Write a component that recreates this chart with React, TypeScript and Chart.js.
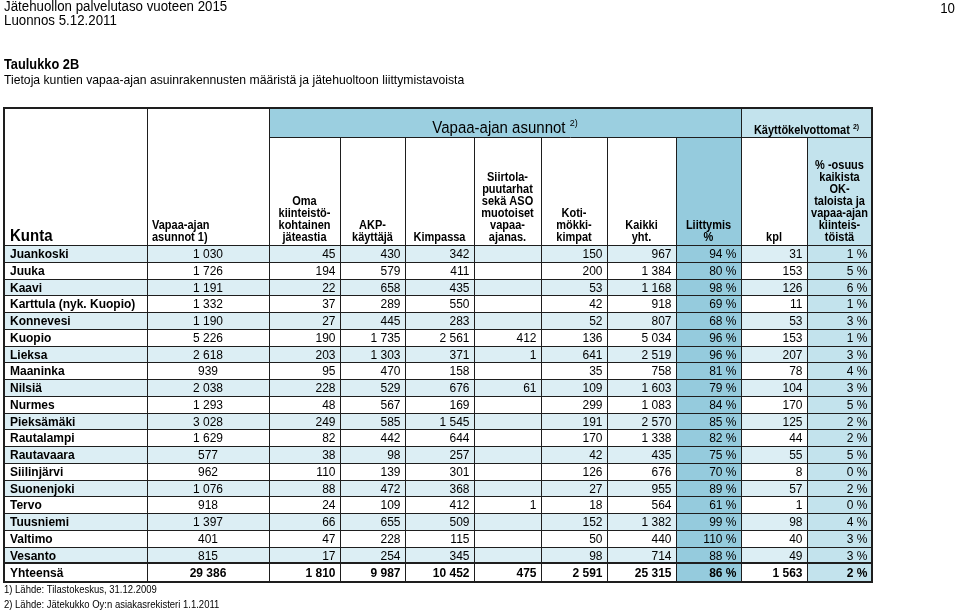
import { useEffect, useRef } from 'react';
import { Chart, registerables } from 'chart.js';
Chart.register(...registerables);

// ---------- DATA ----------
const kunnat = ['Juankoski', 'Juuka', 'Kaavi', 'Karttula (nyk. Kuopio)', 'Konnevesi', 'Kuopio', 'Lieksa', 'Maaninka', 'Nilsiä', 'Nurmes', 'Pieksämäki', 'Rautalampi', 'Rautavaara', 'Siilinjärvi', 'Suonenjoki', 'Tervo', 'Tuusniemi', 'Valtimo', 'Vesanto'];
const vapaaAjanAsunnot = [1030, 1726, 1191, 1332, 1190, 5226, 2618, 939, 2038, 1293, 3028, 1629, 577, 962, 1076, 918, 1397, 401, 815];
const omaJateastia = [45, 194, 22, 37, 27, 190, 203, 95, 228, 48, 249, 82, 38, 110, 88, 24, 66, 47, 17];
const akpKayttaja = [430, 579, 658, 289, 445, 1735, 1303, 470, 529, 567, 585, 442, 98, 139, 472, 109, 655, 228, 254];
const kimpassa = [342, 411, 435, 550, 283, 2561, 371, 158, 676, 169, 1545, 644, 257, 301, 368, 412, 509, 115, 345];
const siirtolapuutarhat = [null, null, null, null, null, 412, 1, null, 61, null, null, null, null, null, null, 1, null, null, null];
const kotimokkikimpat = [150, 200, 53, 42, 52, 136, 641, 35, 109, 299, 191, 170, 42, 126, 27, 18, 152, 50, 98];
const kaikkiYht = [967, 1384, 1168, 918, 807, 5034, 2519, 758, 1603, 1083, 2570, 1338, 435, 676, 955, 564, 1382, 440, 714];
const liittymisPct = [94, 80, 98, 69, 68, 96, 96, 81, 79, 84, 85, 82, 75, 70, 89, 61, 99, 110, 88];
const kayttokelvKpl = [31, 153, 126, 11, 53, 153, 207, 78, 104, 170, 125, 44, 55, 8, 57, 1, 98, 40, 49];
const osuusPct = [1, 5, 6, 1, 3, 1, 3, 4, 3, 5, 2, 2, 5, 0, 2, 0, 4, 3, 3];
const totalLabel = 'Yhteensä';
const totals = [29386, 1810, 9987, 10452, 475, 2591, 25315, 86, 1563, 2];

const headerLabels = [
  ['Kunta'],
  ['Vapaa-ajan', 'asunnot 1)'],
  ['Oma', 'kiinteistö-', 'kohtainen', 'jäteastia'],
  ['AKP-', 'käyttäjä'],
  ['Kimpassa'],
  ['Siirtola-', 'puutarhat', 'sekä ASO', 'muotoiset', 'vapaa-', 'ajanas.'],
  ['Koti-', 'mökki-', 'kimpat'],
  ['Kaikki', 'yht.'],
  ['Liittymis', '%'],
  ['kpl'],
  ['% -osuus', 'kaikista', 'OK-', 'taloista ja', 'vapaa-ajan', 'kiinteis-', 'töistä'],
];
const groupHeader1 = 'Vapaa-ajan asunnot';
const groupHeader2 = 'Käyttökelvottomat';
const groupSup = '2)';
const pageTitle1 = 'Jätehuollon palvelutaso vuoteen 2015';
const pageTitle2 = 'Luonnos 5.12.2011';
const pageNumber = '10';
const tableTitle = 'Taulukko 2B';
const tableSubtitle = 'Tietoja kuntien vapaa-ajan asuinrakennusten määristä ja jätehuoltoon liittymistavoista';
const footnote1 = '1) Lähde: Tilastokeskus, 31.12.2009';
const footnote2 = '2) Lähde: Jätekukko Oy:n asiakasrekisteri 1.1.2011';

const valueColumns = [vapaaAjanAsunnot, omaJateastia, akpKayttaja, kimpassa, siirtolapuutarhat, kotimokkikimpat, kaikkiYht, liittymisPct, kayttokelvKpl, osuusPct];
const pctColumns = [7, 9]; // index in valueColumns

// ---------- LAYOUT / STYLE ----------
const COL_W = [143, 122, 71, 65, 69, 67, 66, 69, 65, 66, 65];
const HDR1_H = 29;
const HDR2_H = 108;
const ROW_H = 16.75;
const TOT_H = 18.5;
const FONT = '"Liberation Sans", Arial, Helvetica, sans-serif';
const C_BAND = '#9bcfe0';
const C_LIITT = '#95cbdd';
const C_LIGHT = '#c3e3ed';
const C_ROW = '#dceef4';
const C_LINE = '#1e1e1e';
const TEXT_SY = 1.1;

const fmt = (n: number) => String(n).replace(/\B(?=(\d{3})+(?!\d))/g, ' ');

export default function App() {
  const ref = useRef<HTMLCanvasElement | null>(null);
  useEffect(() => {
    if (!ref.current) return;
    const cum: number[] = [0];
    COL_W.forEach((w) => cum.push(cum[cum.length - 1] + w));
    const nRows = kunnat.length;
    const rowTop = (r: number) => HDR1_H + HDR2_H + r * ROW_H;
    const totalH = HDR1_H + HDR2_H + nRows * ROW_H + TOT_H;

    const tablePlugin = {
      id: 'tablePlugin',
      beforeDatasetsDraw(chart: any) {
        const ctx = chart.ctx as CanvasRenderingContext2D;
        const xs = chart.scales.x;
        const ys = chart.scales.y;
        const X = (i: number) => xs.getPixelForValue(cum[i]);
        const Y = (v: number) => ys.getPixelForValue(v);
        const txt = (t: string, x: number, y: number, sy = TEXT_SY) => {
          ctx.save();
          ctx.translate(x, y);
          ctx.scale(1, sy);
          ctx.fillText(t, 0, 0);
          ctx.restore();
        };
        const fillCell = (c0: number, c1: number, v0: number, v1: number, color: string) => {
          ctx.fillStyle = color;
          const x0 = Math.round(X(c0)), x1 = Math.round(X(c1));
          const y0 = Math.round(Y(v0)), y1 = Math.round(Y(v1));
          ctx.fillRect(x0, y0, x1 - x0, y1 - y0);
        };
        ctx.save();
        // backgrounds
        fillCell(2, 9, 0, HDR1_H, C_BAND);
        fillCell(9, 11, 0, HDR1_H, C_LIGHT);
        fillCell(8, 9, HDR1_H, HDR1_H + HDR2_H, C_LIITT);
        fillCell(10, 11, HDR1_H, HDR1_H + HDR2_H, C_LIGHT);
        for (let r = 0; r < nRows; r++) {
          if (r % 2 === 0) {
            fillCell(0, 8, rowTop(r), rowTop(r + 1), C_ROW);
            fillCell(9, 10, rowTop(r), rowTop(r + 1), C_ROW);
          }
          fillCell(8, 9, rowTop(r), rowTop(r + 1), C_LIITT);
          fillCell(10, 11, rowTop(r), rowTop(r + 1), C_LIGHT);
        }
        fillCell(8, 9, rowTop(nRows), totalH, C_LIITT);
        fillCell(10, 11, rowTop(nRows), totalH, C_LIGHT);

        // lines
        ctx.strokeStyle = C_LINE;
        const hLine = (c0: number, c1: number, v: number, w = 1) => {
          ctx.lineWidth = w;
          const y = Math.round(Y(v)) + (w % 2 ? 0.5 : 0);
          ctx.beginPath();
          ctx.moveTo(Math.round(X(c0)), y);
          ctx.lineTo(Math.round(X(c1)), y);
          ctx.stroke();
        };
        const vLine = (c: number, v0: number, v1: number, w = 1) => {
          ctx.lineWidth = w;
          const x = Math.round(X(c)) + (w % 2 ? 0.5 : 0);
          ctx.beginPath();
          ctx.moveTo(x, Math.round(Y(v0)));
          ctx.lineTo(x, Math.round(Y(v1)));
          ctx.stroke();
        };
        hLine(2, 11, HDR1_H);
        for (let r = 0; r <= nRows; r++) hLine(0, 11, rowTop(r), r === nRows ? 2 : 1);
        [1, 2, 9].forEach((c) => vLine(c, 0, totalH));
        [3, 4, 5, 6, 7, 8, 10].forEach((c) => vLine(c, HDR1_H, totalH));
        // outer border
        ctx.lineWidth = 2;
        const L = Math.round(X(0)), R = Math.round(X(11)), T = Math.round(Y(0)), B = Math.round(Y(totalH));
        ctx.strokeRect(L, T, R - L, B - T);

        // header text
        ctx.fillStyle = '#000';
        ctx.textBaseline = 'alphabetic';
        const hdrBase = Y(HDR1_H + HDR2_H) - 4.5;
        headerLabels.forEach((lines, c) => {
          if (c === 0) {
            ctx.font = `bold 15px ${FONT}`;
            ctx.textAlign = 'left';
            txt(lines[0], X(0) + 6, hdrBase);
            return;
          }
          ctx.font = `bold 11px ${FONT}`;
          const lh = 12;
          lines.forEach((t, i) => {
            const y = hdrBase - (lines.length - 1 - i) * lh;
            if (c === 1) {
              ctx.textAlign = 'left';
              txt(t, X(1) + 5, y);
            } else {
              ctx.textAlign = 'center';
              txt(t, (X(c) + X(c + 1)) / 2, y);
            }
          });
        });
        // group headers with superscripts
        const drawSup = (text: string, font: string, supFont: string, cx: number, base: number, supRise: number) => {
          ctx.font = font;
          const w1 = ctx.measureText(text + ' ').width;
          ctx.font = supFont;
          const w2 = ctx.measureText(groupSup).width;
          const start = cx - (w1 + w2) / 2;
          ctx.textAlign = 'left';
          ctx.font = font;
          txt(text, start, base);
          ctx.font = supFont;
          txt(groupSup, start + w1, base - supRise);
        };
        drawSup(groupHeader1, `15px ${FONT}`, `9px ${FONT}`, (X(2) + X(9)) / 2, Y(HDR1_H) - 4.5, 6.5);
        drawSup(groupHeader2, `bold 11px ${FONT}`, `bold 7px ${FONT}`, (X(9) + X(11)) / 2, Y(HDR1_H) - 3.5, 4.5);

        // body text
        const drawRow = (label: string, vals: (number | null)[], v0: number, v1: number, bold: boolean) => {
          const base = (Y(v0) + Y(v1)) / 2 + 4.8;
          ctx.font = `bold 12px ${FONT}`;
          ctx.textAlign = 'left';
          txt(label, X(0) + 6, base);
          ctx.font = `${bold ? 'bold ' : ''}12px ${FONT}`;
          vals.forEach((v, k) => {
            if (v === null || v === undefined) return;
            const c = k + 1;
            const s = fmt(v) + (pctColumns.includes(k) ? ' %' : '');
            if (c === 1) {
              ctx.textAlign = 'center';
              txt(s, (X(1) + X(2)) / 2, base);
            } else {
              ctx.textAlign = 'right';
              txt(s, X(c + 1) - 4.5, base);
            }
          });
        };
        for (let r = 0; r < nRows; r++) {
          drawRow(kunnat[r], valueColumns.map((col) => col[r]), rowTop(r), rowTop(r + 1), false);
        }
        drawRow(totalLabel, totals, rowTop(nRows), totalH, true);

        // page texts
        ctx.font = `13.3px ${FONT}`;
        ctx.textAlign = 'left';
        txt(pageTitle1, 4, 10.5);
        txt(pageTitle2, 4, 25);
        ctx.textAlign = 'right';
        txt(pageNumber, 955, 12.5);
        ctx.textAlign = 'left';
        ctx.font = `bold 12.8px ${FONT}`;
        txt(tableTitle, 4, 68.5);
        ctx.font = `12.2px ${FONT}`;
        txt(tableSubtitle, 4, 84);
        ctx.font = `9.5px ${FONT}`;
        txt(footnote1, 4, 592.5);
        txt(footnote2, 4, 607.5);
        ctx.restore();
      },
    };

    const chart = new Chart(ref.current, {
      type: 'scatter',
      data: { datasets: [] },
      options: {
        responsive: false,
        animation: false,
        devicePixelRatio: 1,
        layout: { padding: { left: 4, top: 108, right: 88, bottom: 611 - 108 - totalH } },
        plugins: { legend: { display: false }, tooltip: { enabled: false }, title: { display: false } },
        scales: {
          x: { type: 'linear', min: 0, max: cum[cum.length - 1], display: false },
          y: { type: 'linear', min: 0, max: totalH, reverse: true, display: false },
        },
      },
      plugins: [tablePlugin],
    } as any);
    return () => chart.destroy();
  }, []);

  return (
    <div style={{ position: 'absolute', left: 0, top: 0, width: 960, height: 611, background: '#fff' }}>
      <canvas ref={ref} width={960} height={611} style={{ width: 960, height: 611, display: 'block' }} />
    </div>
  );
}
